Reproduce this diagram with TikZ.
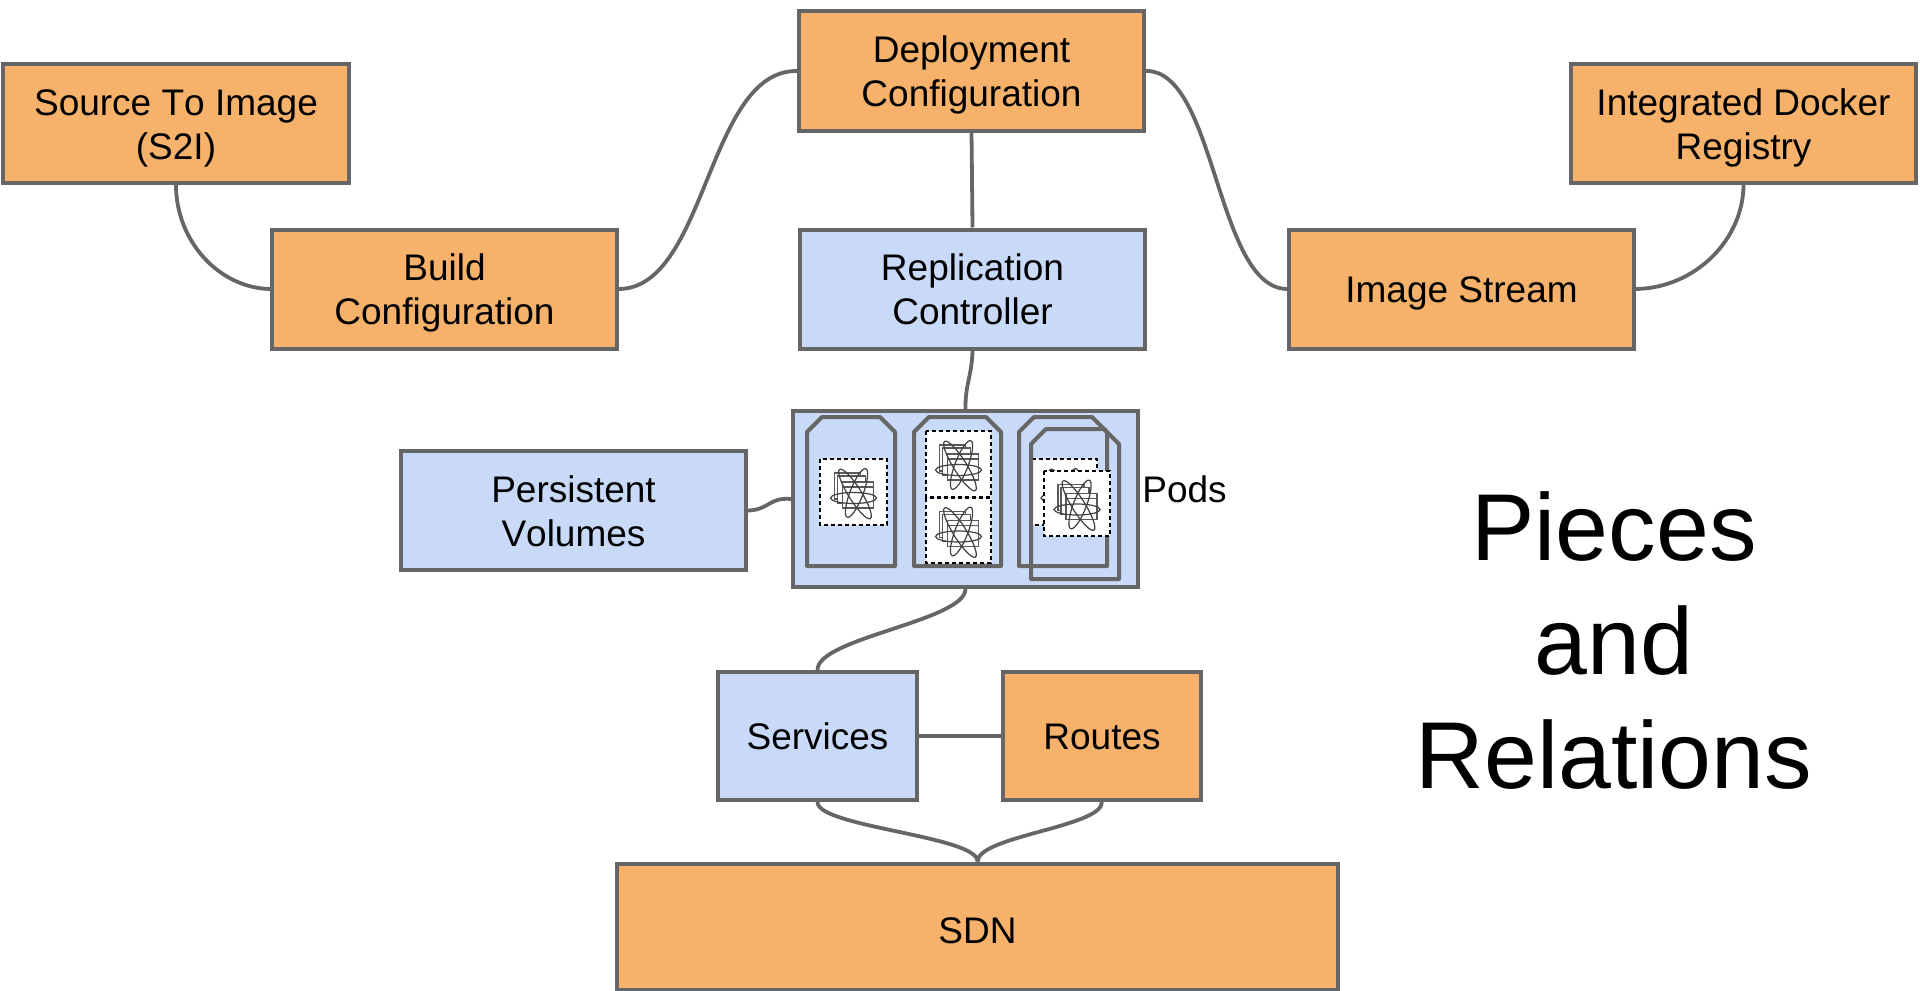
\documentclass[tikz,border=0pt]{standalone}
\usepackage{fontspec}
\setmainfont[Kerning=Off]{Liberation Sans}
\newcommand{\tl}{\rule{0pt}{17.4pt}}
\newcommand{\bl}{\rule[-3.9pt]{0pt}{3.9pt}}
\tikzset{
  x=0.5pt,y=-0.5pt,
  box/.style={draw=edgegray,line width=2pt,inner sep=0pt,align=center,font=\fontsize{18.5}{22}\selectfont,rectangle},
  orangebox/.style={box,fill=boxorange},
  bluebox/.style={box,fill=boxblue},
  link/.style={draw=edgegray,line width=1.9pt},
  podshape/.style={draw=edgegray,line width=2pt,line join=round},
  podframe/.style={draw=black,line width=1pt,dash pattern=on 2.2pt off 1.3pt,fill=white},
  iconline/.style={draw=black!75,line width=0.6pt},
  iconpage/.style={draw=black!65,line width=0.6pt,fill=white},
}
\definecolor{edgegray}{HTML}{666666}
\definecolor{boxorange}{HTML}{F6B26B}
\definecolor{boxblue}{HTML}{C9DAF8}
\newcommand{\podicon}[2]{%
  \begin{scope}[shift={(#1,#2)}]
    \draw[iconpage] (-19,-19) rectangle (7,7);
    \draw[iconpage] (-16,-16) rectangle (12,11);
    \draw[iconpage] (-11,-10) rectangle (20,16);
    \draw[iconpage] (-11,-5) -- (20,-5);
    \draw[iconline] (0,6) ellipse [x radius=23,y radius=5.5];
    \draw[iconline,rotate around={-58:(1.5,2)}] (1.5,2) ellipse [x radius=29,y radius=6.5];
    \draw[iconline,rotate around={69:(3,1)}] (3,1) ellipse [x radius=26,y radius=6.5];
  \end{scope}}
\newcommand{\podoutline}[4]{%
  \draw[podshape] (#1,#4) -- (#1,#2+15) -- (#1+15,#2) -- (#3-15,#2) -- (#3,#2+15) -- (#3,#4) -- cycle;}
\newcommand{\framedicon}[4]{%
  \draw[podframe] (#1,#2) rectangle (#3,#4);
  \podicon{#1/2+#3/2}{#2/2+#4/2}}
\begin{document}
\begin{tikzpicture}
\clip (0,0) rectangle (1920,990);
\useasboundingbox (0,0) rectangle (1920,990);
\fill[white] (0,0) rectangle (1920,990);

\node[orangebox,minimum width=173pt,minimum height=59.5pt] (s2i) at (176,123.5) {\tl Source To Image\\(S2I)\bl};
\node[orangebox,minimum width=172.5pt,minimum height=59.5pt] (deploy) at (971.5,71) {\tl Deployment\\Configuration\bl};
\node[orangebox,minimum width=172.5pt,minimum height=59.5pt] (registry) at (1743.5,123.5) {\tl Integrated Docker\\Registry\bl};
\node[orangebox,minimum width=172.5pt,minimum height=59.5pt] (build) at (444.5,289) {\tl Build\\Configuration\bl};
\node[bluebox,minimum width=172.5pt,minimum height=59.5pt] (rc) at (972.5,289) {\tl Replication\\Controller\bl};
\node[orangebox,minimum width=172.5pt,minimum height=59.5pt] (stream) at (1461.5,289) {\tl Image Stream\bl};
\node[bluebox,minimum width=172.5pt,minimum height=88pt] (pods) at (965.5,499) {};
\node[bluebox,minimum width=172.5pt,minimum height=59.5pt] (pv) at (573.5,510.5) {\tl Persistent\\Volumes\bl};
\node[bluebox,minimum width=99.5pt,minimum height=64pt] (svc) at (817.5,736) {\tl Services\bl};
\node[orangebox,minimum width=99pt,minimum height=64pt] (routes) at (1102,736) {\tl Routes\bl};
\node[orangebox,minimum width=360.5pt,minimum height=63pt] (sdn) at (977.5,926.5) {\tl\raisebox{-1.5pt}{SDN}\bl};
\node[font=\fontsize{18.5}{22}\selectfont,anchor=west,inner sep=0pt] (podslabel) at (1142,489) {Pods};
\node[font=\fontsize{47.5}{57}\selectfont,align=center,inner sep=0pt] (title) at (1614,641) {Pieces\\and\\Relations};

\draw[link] (s2i.south) .. controls (176,241) and (219,288) .. (build.west);
\draw[link] (build.east) .. controls (707,288) and (707,70) .. (deploy.west);
\draw[link] (deploy.east) .. controls (1216,70) and (1216,288) .. (stream.west);
\draw[link] (stream.east) .. controls (1694,288) and (1743,241) .. (registry.south);
\draw[link] (deploy.south) -- (rc.north);
\draw[link] (rc.south) .. controls (972,375) and (965,385) .. (pods.north);
\draw[link] (pv.east) .. controls (769,510) and (769,497) .. (pods.west);
\draw[link] (pods.south) .. controls (965,621) and (817,638) .. (svc.north);
\draw[link] (svc.east) -- (routes.west);
\draw[link] (svc.south) .. controls (817,827) and (978,836) .. (sdn.north);
\draw[link] (routes.south) .. controls (1102,827) and (978,836) .. (sdn.north);

\podoutline{807}{417}{895}{566}
\podoutline{914}{417}{1001}{566}
\podoutline{1019}{417}{1107}{566}
\framedicon{820}{459}{887}{525}
\framedicon{926}{431}{991}{497}
\framedicon{926}{498}{991}{563}
\framedicon{1031}{459}{1097}{525}
\podoutline{1031}{429}{1119}{579}
\framedicon{1044}{471}{1110}{536}
\end{tikzpicture}
\end{document}
